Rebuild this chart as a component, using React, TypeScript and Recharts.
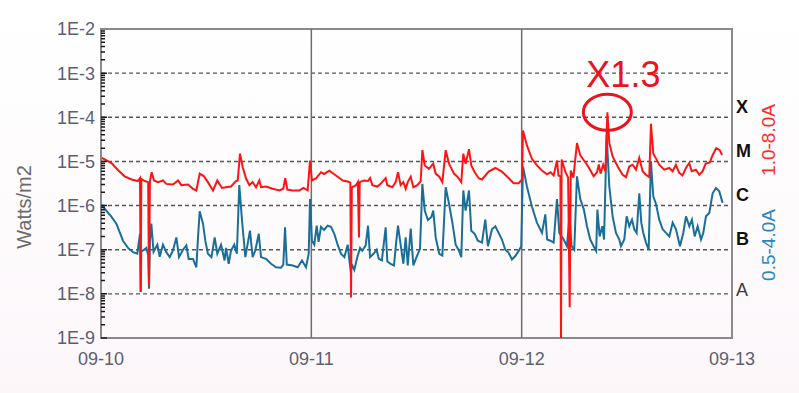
import React from "react";
import {
  LineChart, Line, XAxis, YAxis, CartesianGrid,
  ReferenceLine, ReferenceArea, ReferenceDot,
} from "recharts";

// hours since 09-10 00:00, flux in W/m2
const longDay1: [number, number][] = [
  [0.1, 1.2e-5], [1.2, 9.2e-6], [1.9, 6.5e-6], [2.7, 4.6e-6], [3.5, 3.9e-6], [4.2, 3.6e-6],
  [4.45, 4.2e-6], [4.53, 1.1e-8], [4.6, 4.0e-6], [5.0, 3.6e-6], [5.38, 3.4e-6], [5.48, 1.5e-8],
  [5.58, 3.6e-6], [5.78, 5.7e-6], [6.05, 3.7e-6], [6.5, 3.4e-6], [7.07, 3.7e-6], [7.45, 3.1e-6],
  [8.2, 3.0e-6], [8.8, 3.7e-6], [9.16, 2.9e-6], [9.93, 3.0e-6], [10.5, 2.4e-6], [10.88, 2.2e-6],
  [11.26, 5.3e-6], [11.75, 4.6e-6], [12.2, 3.4e-6], [12.78, 2.2e-6], [13.27, 3.7e-6], [13.8, 2.5e-6],
  [14.26, 2.6e-6], [14.83, 2.7e-6], [15.4, 3.6e-6], [15.6, 3.7e-6], [15.86, 1.5e-5], [16.17, 7.4e-6],
  [16.55, 4.1e-6], [16.93, 2.9e-6], [17.3, 3.4e-6], [17.69, 2.6e-6], [18.07, 3.7e-6], [18.26, 2.6e-6],
  [18.83, 2.7e-6], [19.59, 2.4e-6], [20.35, 2.2e-6], [20.8, 2.4e-6], [21.03, 4.2e-6], [21.26, 2.3e-6],
  [21.87, 2.2e-6], [22.63, 2.2e-6], [23.1, 2.5e-6], [23.58, 2.2e-6], [23.85, 1.05e-5],
];
const longDay2: [number, number][] = [
  [24.07, 3.7e-6], [24.53, 4.1e-6], [25.1, 5.7e-6], [25.45, 5.2e-6], [26.05, 6.2e-6], [26.81, 4.8e-6],
  [27.58, 3.7e-6], [28.15, 3.5e-6], [28.45, 3.3e-6], [28.53, 8.3e-9], [28.62, 2.6e-6], [29.1, 2.9e-6],
  [29.3, 3.4e-6], [29.44, 1.9e-7], [29.52, 3.4e-6], [30.0, 3.7e-6], [30.47, 3.6e-6], [30.7, 4.2e-6],
  [30.96, 2.9e-6], [31.53, 2.7e-6], [31.9, 3.1e-6], [32.48, 4.2e-6], [32.67, 2.9e-6], [33.24, 2.6e-6],
  [33.62, 3.4e-6], [33.89, 5.7e-6], [34.19, 2.9e-6], [34.5, 3.4e-6], [34.77, 2.4e-6], [35.0, 3.4e-6],
  [35.34, 4.5e-6], [35.64, 2.6e-6], [36.1, 2.9e-6], [36.48, 3.6e-6], [36.67, 1.8e-5], [36.94, 8.1e-6],
  [37.42, 6.8e-6], [37.91, 8.9e-6], [38.19, 5.3e-6], [38.6, 4.5e-6], [38.95, 3.4e-6], [39.33, 1.8e-5],
  [39.71, 8.9e-6], [40.28, 5.3e-6], [40.66, 4.5e-6], [41.11, 3.4e-6], [41.34, 1.5e-5], [41.6, 8.9e-6],
  [41.99, 1.9e-5], [42.25, 8.1e-6], [42.64, 5.7e-6], [43.13, 4.1e-6], [43.47, 3.9e-6], [44.23, 5.9e-6],
  [45.0, 7.1e-6], [45.75, 5.9e-6], [46.5, 4.2e-6], [47.08, 3.2e-6], [47.66, 3.2e-6], [48.04, 3.9e-6],
];
const longDay3: [number, number][] = [
  [48.15, 5.0e-5], [48.6, 2.3e-5], [49.17, 1.15e-5], [49.74, 8.1e-6], [50.32, 6.2e-6], [50.89, 5.1e-6],
  [51.3, 5.7e-6], [51.65, 4.8e-6], [52.03, 1.05e-5], [52.2, 4.8e-6], [52.42, 4.6e-6], [52.49, 1.0e-9],
  [52.56, 1.1e-5], [53.0, 5.7e-6], [53.3, 4.3e-6], [53.48, 5.0e-9], [53.6, 6.2e-6], [53.9, 4.3e-6],
  [54.31, 2.6e-5], [54.69, 1.37e-5], [55.26, 9.6e-6], [55.64, 7.4e-6], [56.21, 4.6e-6], [56.59, 5.7e-6],
  [56.8, 8.5e-6], [57.0, 5.3e-6], [57.3, 8.5e-6], [57.55, 6.0e-6], [57.78, 1.3e-4], [58.0, 2.6e-5],
  [58.38, 1.3e-5], [58.95, 7.7e-6], [59.52, 5.0e-6], [59.9, 4.4e-6], [60.28, 7.7e-6], [60.66, 8.4e-6],
  [61.04, 6.5e-6], [61.42, 1.2e-5], [61.8, 6.0e-6], [62.18, 5.0e-6], [62.56, 4.4e-6], [62.75, 7.1e-5],
  [63.02, 1.5e-5], [63.4, 1.1e-5], [63.7, 8.4e-6], [64.27, 6.5e-6], [64.84, 7.1e-6], [65.22, 6.0e-6],
  [65.6, 8.4e-6], [65.98, 5.5e-6], [66.36, 4.8e-6], [66.74, 7.1e-6], [67.12, 9.2e-6], [67.4, 6.0e-6],
  [67.88, 6.5e-6], [68.27, 5.0e-6], [68.65, 6.0e-6], [69.0, 8.9e-6], [69.46, 9.5e-6], [69.8, 1.4e-5],
  [70.2, 2.0e-5], [70.6, 1.8e-5], [70.87, 1.4e-5],
];

const shortDay1: [number, number][] = [
  [0.1, 1.04e-6], [0.6, 7.7e-7], [1.18, 5.6e-7], [1.75, 3.9e-7], [2.13, 2.5e-7], [2.51, 1.6e-7],
  [3.08, 1.1e-7], [3.65, 8.8e-8], [4.14, 8.1e-8], [4.45, 2.3e-7], [4.53, 1.1e-8], [4.6, 9.0e-8],
  [4.9, 1.0e-7], [5.17, 1.1e-7], [5.38, 7.6e-8], [5.48, 1.3e-8], [5.58, 1.5e-7], [5.74, 3.9e-7],
  [6.0, 9.0e-8], [6.43, 1.3e-7], [6.7, 6.9e-8], [7.07, 1.3e-7], [7.45, 8.8e-8], [7.84, 6.8e-8],
  [8.2, 9.5e-8], [8.6, 1.9e-7], [8.9, 6.8e-8], [9.36, 1.0e-7], [9.74, 1.25e-7], [10.0, 6.2e-8],
  [10.5, 6.2e-8], [10.88, 4.0e-8], [11.07, 1.9e-7], [11.26, 7.4e-7], [11.64, 3.9e-7], [11.9, 1.6e-7],
  [12.2, 8.1e-8], [12.6, 6.8e-8], [12.97, 1.9e-7], [13.27, 8.1e-8], [13.7, 1.3e-7], [14.1, 5.7e-8],
  [14.26, 1.1e-7], [14.57, 4.8e-8], [14.83, 9.5e-8], [15.21, 1.3e-7], [15.5, 8.1e-8], [15.78, 2.9e-6],
  [16.09, 4.6e-7], [16.47, 6.8e-8], [17.0, 2.7e-7], [17.3, 6.8e-8], [17.6, 9.5e-8], [18.0, 2.3e-7],
  [18.26, 6.8e-8], [18.83, 6.2e-8], [19.4, 4.8e-8], [19.97, 4.0e-8], [20.54, 3.9e-8], [20.8, 4.6e-8],
  [21.0, 3.2e-7], [21.2, 4.6e-8], [21.87, 4.4e-8], [22.45, 4.0e-8], [22.93, 5.7e-8], [23.39, 4.0e-8],
  [23.7, 8.1e-8], [23.85, 1.4e-6],
];
const shortDay2: [number, number][] = [
  [24.07, 1.6e-7], [24.34, 1.3e-7], [24.61, 3.5e-7], [24.83, 1.5e-7], [25.1, 3.3e-7], [25.45, 2.8e-7],
  [25.86, 3.5e-7], [26.24, 3.3e-7], [26.62, 2.3e-7], [27.0, 1.3e-7], [27.38, 8.1e-8], [27.77, 6.8e-8],
  [28.15, 1.3e-7], [28.34, 5.7e-8], [28.53, 3.0e-8], [28.6, 4.8e-8], [28.9, 3.5e-8], [29.25, 6.8e-8],
  [29.56, 1.1e-7], [29.8, 9.5e-8], [30.2, 1.25e-7], [30.47, 3.5e-7], [30.7, 6.8e-8], [31.1, 8.1e-8],
  [31.45, 1.0e-7], [31.7, 6.2e-8], [32.05, 5.7e-8], [32.48, 3.2e-7], [32.67, 5.4e-8], [33.05, 4.8e-8],
  [33.43, 4.4e-8], [33.7, 1.6e-7], [33.89, 3.5e-7], [34.19, 1.3e-7], [34.5, 4.8e-8], [34.77, 1.9e-7],
  [35.0, 4.4e-8], [35.34, 3.0e-7], [35.64, 4.4e-8], [36.0, 6.8e-8], [36.4, 1.05e-7], [36.67, 3.1e-6],
  [36.94, 7.7e-7], [37.3, 4.7e-7], [37.7, 5.5e-7], [37.91, 7.7e-7], [38.19, 1.9e-7], [38.6, 8.1e-8],
  [38.95, 7.4e-8], [39.33, 2.6e-6], [39.71, 1.1e-6], [40.1, 4.0e-7], [40.47, 1.3e-7], [40.85, 9.5e-8],
  [41.11, 6.8e-8], [41.34, 2.2e-6], [41.6, 7.7e-7], [41.99, 2.2e-6], [42.25, 2.7e-7], [42.64, 2.3e-7],
  [43.0, 1.6e-7], [43.47, 1.45e-7], [43.85, 4.8e-7], [44.15, 1.2e-7], [44.61, 2.9e-7], [45.0, 3.4e-7],
  [45.37, 2.4e-7], [45.75, 1.7e-7], [46.13, 1.0e-7], [46.5, 8.6e-8], [46.89, 6.0e-8], [47.27, 7.2e-8],
  [47.66, 9.4e-8], [47.95, 1.2e-7],
];
const shortDay3: [number, number][] = [
  [48.15, 7.7e-6], [48.6, 2.7e-6], [49.17, 9.5e-7], [49.74, 4.1e-7], [50.32, 2.4e-7], [50.7, 6.3e-7],
  [50.9, 1.7e-7], [51.27, 1.6e-7], [51.65, 1.45e-7], [52.03, 1.4e-6], [52.3, 2.4e-7], [52.8, 1.7e-7],
  [53.17, 1.2e-7], [53.45, 5.7e-7], [53.7, 1.2e-7], [54.0, 1.0e-7], [54.31, 4.6e-6], [54.69, 1.4e-6],
  [55.1, 8.1e-7], [55.45, 3.4e-7], [55.83, 1.7e-7], [56.21, 1.2e-7], [56.5, 9.4e-8], [56.64, 8.1e-7],
  [56.9, 2.0e-7], [57.2, 3.4e-7], [57.4, 1.7e-7], [57.7, 4.0e-5], [58.0, 2.7e-6], [58.38, 5.7e-7],
  [58.76, 2.4e-7], [59.14, 1.7e-7], [59.33, 1.2e-7], [59.71, 1.7e-7], [59.98, 5.7e-7], [60.28, 3.4e-7],
  [60.59, 4.8e-7], [60.85, 2.9e-7], [61.12, 2.4e-7], [61.42, 1.9e-6], [61.65, 4.1e-7], [61.88, 2.4e-7],
  [62.18, 1.45e-7], [62.49, 1.0e-7], [62.75, 1.0e-5], [63.02, 1.6e-6], [63.32, 1.1e-6], [63.7, 4.8e-7],
  [64.09, 2.9e-7], [64.47, 2.4e-7], [64.85, 2.0e-7], [65.23, 4.1e-7], [65.61, 2.9e-7], [66.06, 1.2e-7],
  [66.44, 2.4e-7], [66.75, 5.7e-7], [67.13, 3.4e-7], [67.43, 4.8e-7], [67.74, 2.0e-7], [68.08, 3.4e-7],
  [68.46, 1.7e-7], [68.72, 2.4e-7], [69.03, 5.7e-7], [69.41, 6.8e-7], [69.79, 1.9e-6], [70.17, 2.5e-6],
  [70.55, 2.1e-6], [70.93, 1.15e-6],
];

const decadeTicks = [1e-9, 1e-8, 1e-7, 1e-6, 1e-5, 1e-4, 1e-3, 1e-2];
const decadeLabels = ["1E-9", "1E-8", "1E-7", "1E-6", "1E-5", "1E-4", "1E-3", "1E-2"];
const dateTicks = [0, 24, 48, 72];
const dateLabels = ["09-10", "09-11", "09-12", "09-13"];
const classTicks = [1e-4, 1e-5, 1e-6, 1e-7, 1e-8];
const classLabels = ["X", "M", "C", "B", "A"];
const flare = { t: 57.78, v: 1.3e-4, label: "X1.3" };

// log minor ticks (1..9 per decade)
const minorTicks: number[] = [];
decadeTicks.slice(0, -1).forEach((d) => {
  for (let k = 1; k <= 9; k++) minorTicks.push(d * k);
});

const toPts = (rows: [number, number][]) => rows.map(([t, v]) => ({ t, v }));
const longPts = toPts([...longDay1, ...longDay2, ...longDay3]);
const shortPts = toPts([...shortDay1, ...shortDay2, ...shortDay3]);

const FONT = "'Liberation Sans', Arial, sans-serif";
const RED = "#ff1414";
const BLUE = "#1a6f99";

// plot box, set by the chart margins and axis sizes below
const PLOT_LEFT = 101;
const PLOT_TOP = 29;
const PLOT_H = 309;

const ClassTick = (props: any) => {
  const { x, y, payload } = props;
  const isA = payload.value === 1e-8;
  return (
    <text
      x={x}
      y={y + (isA ? -4 : -11)}
      dy="0.36em"
      textAnchor="start"
      fontFamily={FONT}
      fontSize={18}
      fontWeight={isA ? 400 : 700}
      fill={isA ? "#3a3a3a" : "#111"}
    >
      {classLabels[classTicks.indexOf(payload.value)]}
    </text>
  );
};

const BandLabels = () => {
  const cx = 768;
  return (
    <g fontFamily={FONT} fontSize={19}>
      <text x={cx} y={140} transform={`rotate(-90 ${cx} 140)`} textAnchor="middle" dominantBaseline="central" fill="#ff2a2a">
        1.0-8.0A
      </text>
      <text x={cx} y={245} transform={`rotate(-90 ${cx} 245)`} textAnchor="middle" dominantBaseline="central" fill="#2a86bd">
        0.5-4.0A
      </text>
    </g>
  );
};

// unit label plus the small inward log ticks on the left edge
const LeftAxisDecor = () => {
  const top = Math.log10(decadeTicks[decadeTicks.length - 1]);
  const span = top - Math.log10(decadeTicks[0]);
  const x = 24;
  const y = 207;
  const d = minorTicks
    .map((v) => {
      const ty = PLOT_TOP + ((top - Math.log10(v)) / span) * PLOT_H;
      const major = decadeTicks.some((dv) => Math.abs(dv - v) / dv < 1e-6);
      return `M${PLOT_LEFT},${ty.toFixed(2)}h${major ? 6 : 4}`;
    })
    .join("");
  return (
    <g>
      <path d={d} stroke="#1a1a1a" strokeWidth={1.5} fill="none" />
      <text x={x} y={y} transform={`rotate(-90 ${x} ${y})`} textAnchor="middle" dominantBaseline="central"
        fontFamily={FONT} fontSize={20} fill="#6a6a6a">
        Watts/m2
      </text>
    </g>
  );
};

const FlareMark = (props: any) => {
  const { cx, cy } = props;
  return (
    <g>
      <ellipse cx={cx} cy={cy} rx={24} ry={18} fill="none" stroke="#e8141e" strokeWidth={3} />
      <text x={cx + 16} y={cy - 25} textAnchor="middle" fontFamily={FONT} fontSize={36} fill="#e8141e">
        {flare.label}
      </text>
    </g>
  );
};

export default function App() {
  const tickStyle = { fontFamily: FONT, fontSize: 18, fill: "#5b6070" };
  return (
    <div
      style={{
        width: 799,
        height: 393,
        background: "linear-gradient(180deg, #ffffff 0%, #fefbfd 60%, #fcf6f9 100%)",
      }}
    >
      <style>{"body{margin:0}"}</style>
      <LineChart width={799} height={393} margin={{ top: 29, right: 0, left: 0, bottom: 25 }}>
        <CartesianGrid
          yAxisId="flux"
          vertical={false}
          horizontalValues={decadeTicks}
          stroke="#555"
          strokeWidth={1.4}
          strokeDasharray="4 3"
        />
        <XAxis
          dataKey="t"
          type="number"
          domain={[0, 72]}
          ticks={dateTicks}
          tickFormatter={(v: number) => dateLabels[dateTicks.indexOf(v)]}
          axisLine={false}
          tickLine={false}
          tickSize={0}
          tickMargin={14}
          height={30}
          tick={tickStyle}
          interval={0}
        />
        <YAxis
          yAxisId="flux"
          scale="log"
          type="number"
          domain={[1e-9, 1e-2]}
          allowDataOverflow
          ticks={decadeTicks}
          tickFormatter={(v: number) => decadeLabels[decadeTicks.indexOf(v)]}
          axisLine={false}
          tickLine={false}
          tickSize={0}
          tickMargin={6}
          width={101}
          tick={tickStyle}
          interval={0}
          label={<LeftAxisDecor />}
        />
        <YAxis
          yAxisId="cls"
          orientation="right"
          scale="log"
          type="number"
          domain={[1e-9, 1e-2]}
          allowDataOverflow
          ticks={classTicks}
          axisLine={false}
          tickLine={false}
          tickSize={0}
          tickMargin={4}
          width={67}
          tick={<ClassTick />}
          interval={0}
          label={<BandLabels />}
        />
        <ReferenceLine yAxisId="flux" x={24} stroke="#6e6e6e" strokeWidth={1.5} />
        <ReferenceLine yAxisId="flux" x={48} stroke="#6e6e6e" strokeWidth={1.5} />
        <Line
          yAxisId="flux"
          data={shortPts}
          dataKey="v"
          type="linear"
          stroke={BLUE}
          strokeWidth={2}
          dot={false}
          isAnimationActive={false}
        />
        <Line
          yAxisId="flux"
          data={longPts}
          dataKey="v"
          type="linear"
          stroke={RED}
          strokeWidth={2}
          dot={false}
          isAnimationActive={false}
        />
        <ReferenceArea
          yAxisId="flux"
          x1={0}
          x2={72}
          y1={1e-9}
          y2={1e-2}
          fill="none"
          stroke="#8a8a8a"
          strokeWidth={2}
          ifOverflow="visible"
        />
        <ReferenceDot
          yAxisId="flux"
          x={flare.t}
          y={flare.v}
          ifOverflow="visible"
          shape={<FlareMark />}
        />
      </LineChart>
    </div>
  );
}
